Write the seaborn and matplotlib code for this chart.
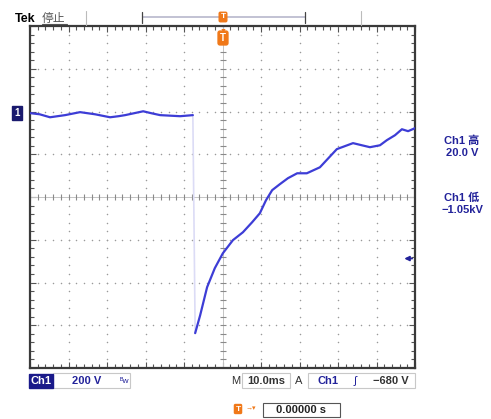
import numpy as np
import seaborn as sns
import matplotlib.pyplot as plt
from matplotlib.patches import Rectangle

sns.set_style("white")
plt.rcParams['font.family'] = ['Liberation Sans', 'Noto Sans CJK SC', 'DejaVu Sans']

# trace before the drop (ms, V)
t_flat = [-49.8, -47.5, -44.8, -40.9, -37.0, -33.1, -29.2, -27.0, -25.3, -20.6, -18.5, -16.2, -11.0, -7.7]
v_flat = [0, -5, -19, -9, 5, -5, -19, -14, -9, 9, 0, -9, -14, -9]
# trace after the drop (ms, V)
t_rise = [-7.1, -5.8, -4.0, -2.0, 0.1, 2.7, 5.3, 7.7, 9.7, 11.3, 12.9, 14.9, 17.0, 19.4,
          21.9, 25.3, 29.7, 31.8, 33.9, 36.2, 38.3, 40.9, 42.7, 44.8, 46.6, 48.2, 50.0]
v_rise = [-1029, -945, -814, -725, -655, -594, -557, -510, -468, -407, -360, -332, -304, -281,
          -281, -253, -168, -154, -140, -150, -159, -150, -126, -103, -75, -84, -70]

t_div, v_div = 10, 200      # 10.0 ms/div, 200 V/div
trig_level = -680
xlim = (-50, 50)
ylim = (-1192, 408)

W, H = 491, 419
fig = plt.figure(figsize=(W / 100, H / 100), dpi=100)
ax = fig.add_axes([30 / W, 1 - 368 / H, 385 / W, 342 / H])
ax.set_xlim(*xlim)
ax.set_ylim(*ylim)

# grid: dotted lines made of dots at each minor step
xmaj = np.arange(xlim[0], xlim[1] + 0.1, t_div)
ymaj = np.arange(ylim[0], ylim[1] + 0.1, v_div)
xmin = np.arange(xlim[0], xlim[1] + 0.1, t_div / 5)
ymin = np.arange(ylim[0], ylim[1] + 0.1, v_div / 5)
xc, yc = 0, (ylim[0] + ylim[1]) / 2
for x in xmaj[1:-1]:
    if x != xc:
        ax.scatter(np.full(len(ymin), x), ymin, s=1.2, color='#9a9a9a', lw=0, zorder=1)
for y in ymaj[1:-1]:
    if y != yc:
        ax.scatter(xmin, np.full(len(xmin), y), s=1.2, color='#9a9a9a', lw=0, zorder=1)
ax.axvline(xc, color='#c4c4c4', lw=0.7, zorder=1)
ax.axhline(yc, color='#c4c4c4', lw=0.7, zorder=1)
ax.scatter(np.full(len(ymin), xc), ymin, marker='_', s=14, color='#8a8a8a', lw=0.8, zorder=1)
ax.scatter(xmin, np.full(len(xmin), yc), marker='|', s=14, color='#8a8a8a', lw=0.8, zorder=1)

ax.set_xticks(xmaj)
ax.set_yticks(ymaj)
ax.set_xticks(xmin, minor=True)
ax.set_yticks(ymin, minor=True)
ax.tick_params(which='both', direction='in', top=True, right=True, bottom=True, left=True,
               labelbottom=False, labelleft=False, color='#555555', width=0.8)
ax.tick_params(which='major', length=4)
ax.tick_params(which='minor', length=3)
for s in ax.spines.values():
    s.set_color('#3a3a3a')
    s.set_linewidth(1.6)

# trace
blue = '#3d3dd6'
ax.plot([t_flat[-1], t_rise[0]], [v_flat[-1], v_rise[0]], color='#dcdcf6', lw=1.2, zorder=2)
sns.lineplot(x=t_flat, y=v_flat, ax=ax, color=blue, lw=1.6, estimator=None, zorder=3)
sns.lineplot(x=t_rise, y=v_rise, ax=ax, color=blue, lw=1.6, estimator=None, zorder=3)


def P(x, y):
    return x / W, 1 - y / H


navy = '#22229a'
orange = '#f07818'

# top status
fig.text(*P(15, 22), 'Tek', fontsize=9, fontweight='bold', color='black')
fig.text(*P(42, 22), '停止', fontsize=8.5, color='#555555')
fig.add_artist(plt.Line2D([42 / W, 67 / W], [1 - 24 / H] * 2, color='#555555', lw=0.8))
for x in (86, 361):
    fig.add_artist(plt.Line2D([x / W] * 2, [1 - 11 / H, 1 - 25 / H], color='#bbbbbb', lw=0.8))
fig.add_artist(plt.Line2D([143 / W, 305 / W], [1 - 17 / H] * 2, color='#b8b8cc', lw=1.2))
for x in (142, 305):
    fig.add_artist(plt.Line2D([x / W] * 2, [1 - 12 / H, 1 - 23 / H], color='#444444', lw=0.9))
fig.text(*P(223, 17), 'T', fontsize=6, fontweight='bold', color='white', ha='center', va='center',
         bbox=dict(boxstyle='round,pad=0.15', fc=orange, ec=orange))
fig.text(*P(223, 38), 'T', fontsize=7, fontweight='bold', color='white', ha='center', va='center',
         bbox=dict(boxstyle='round,pad=0.2', fc=orange, ec=orange))
fig.text(*P(223, 31), '▼', fontsize=5, color=orange, ha='center', va='center')

# channel ground marker
fig.text(*P(17, 113), '1', fontsize=7, fontweight='bold', color='white', ha='center', va='center',
         bbox=dict(boxstyle='square,pad=0.2', fc='#1a1a6e', ec='#1a1a6e'))

# right readouts
fig.text(*P(462, 141), 'Ch1 高', fontsize=8, fontweight='bold', color=navy, ha='center', va='center')
fig.text(*P(462, 153), '20.0 V', fontsize=8, fontweight='bold', color=navy, ha='center', va='center')
fig.text(*P(462, 198), 'Ch1 低', fontsize=8, fontweight='bold', color=navy, ha='center', va='center')
fig.text(*P(462, 210), '−1.05kV', fontsize=8, fontweight='bold', color=navy, ha='center', va='center')

# trigger level pointer
ax.annotate('', xy=(0.965, trig_level), xytext=(1.0, trig_level),
            xycoords=('axes fraction', 'data'),
            arrowprops=dict(arrowstyle='-|>', color=navy, lw=1.2, mutation_scale=7))

# bottom readouts
fig.add_artist(Rectangle(P(53, 388), 77 / W, 15 / H, fill=False, ec='#c8c8c8', lw=0.8))
fig.text(*P(41, 381), 'Ch1', fontsize=8, fontweight='bold', color='white', ha='center', va='center',
         bbox=dict(boxstyle='square,pad=0.15', fc='#1a1a8a', ec='#1a1a8a'))
fig.text(*P(87, 381), '200 V', fontsize=8, fontweight='bold', color=navy, ha='center', va='center')
fig.text(*P(125, 381), 'ᴮw', fontsize=6, color=navy, ha='center', va='center')
fig.text(*P(236, 381), 'M', fontsize=8, color='#333333', ha='center', va='center')
fig.add_artist(Rectangle(P(242, 388), 48 / W, 15 / H, fill=False, ec='#c8c8c8', lw=0.8))
fig.text(*P(266, 381), '10.0ms', fontsize=8, fontweight='bold', color='#333333', ha='center', va='center')
fig.text(*P(299, 381), 'A', fontsize=8, color='#333333', ha='center', va='center')
fig.add_artist(Rectangle(P(308, 388), 107 / W, 15 / H, fill=False, ec='#c8c8c8', lw=0.8))
fig.text(*P(328, 381), 'Ch1', fontsize=8, fontweight='bold', color=navy, ha='center', va='center')
fig.text(*P(355, 381), '∫', fontsize=8, color=navy, ha='center', va='center')
fig.text(*P(391, 381), '−680 V', fontsize=8, fontweight='bold', color='#333333', ha='center', va='center')

fig.text(*P(238, 409), 'T', fontsize=6, fontweight='bold', color='white', ha='center', va='center',
         bbox=dict(boxstyle='round,pad=0.12', fc=orange, ec=orange))
fig.text(*P(251, 409), '→▾', fontsize=5, color=orange, ha='center', va='center')
fig.add_artist(Rectangle(P(263, 417), 77 / W, 14 / H, fill=False, ec='#555555', lw=0.8))
fig.text(*P(301, 410), '0.00000 s', fontsize=8, fontweight='bold', color='#222222', ha='center', va='center')

fig.savefig('out.png', dpi=100)
